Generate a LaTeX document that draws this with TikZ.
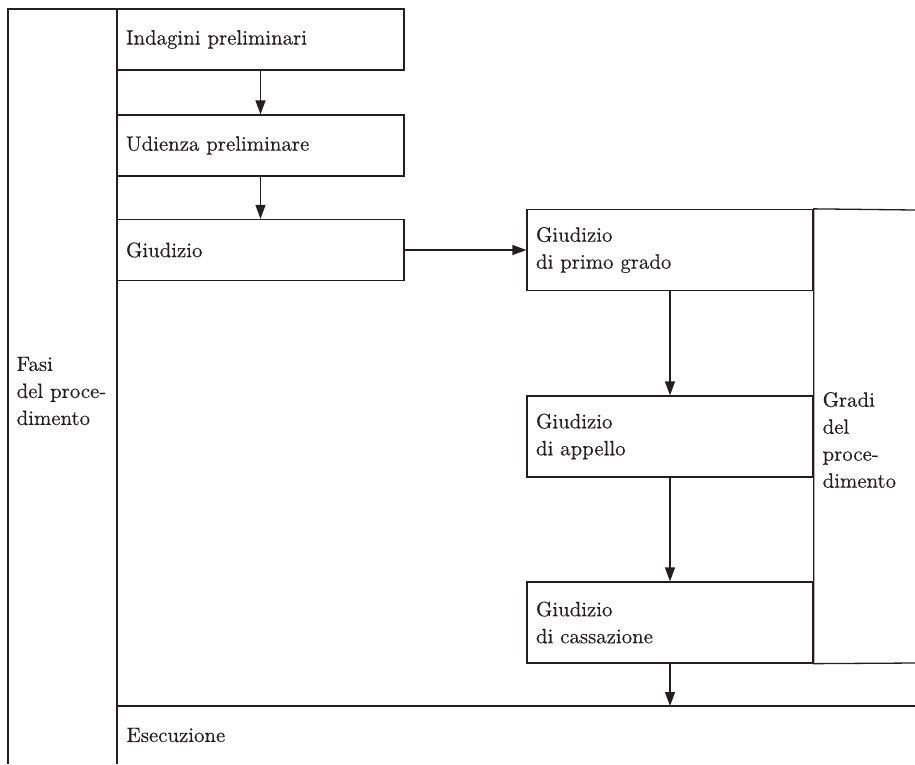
\documentclass[tikz,border=0pt]{standalone}
\usepackage{fontspec}
\setmainfont{lmroman10-regular}[Extension=.otf, FakeBold=0.3]
\usetikzlibrary{arrows.meta}
\definecolor{ink}{HTML}{231F20}
\begin{document}
\begin{tikzpicture}[x=1pt,y=-1pt,
  line width=1.3pt, color=ink,
  font=\fontsize{20.8}{27}\selectfont,
  stage/.style={draw, rectangle, minimum width=287pt, minimum height=61pt,
    inner xsep=9pt, inner ysep=0pt, text width=269pt, align=left},
  gradebox/.style={stage, minimum width=286pt, text width=268pt, minimum height=81pt},
  tag/.style={inner sep=0pt, align=left, anchor=west},
  flow/.style={-{Triangle[length=14pt,width=10pt]}}
]
\useasboundingbox (0,0) rectangle (915,764);

% phases of the proceeding
\node[stage] (ind) at (260.5,39.5)  {Indagini preliminari};
\node[stage] (ud)  at (260.5,145.5) {Udienza preliminare};
\node[stage] (giu) at (260.5,250) {Giudizio};

% degrees of judgement
\node[gradebox] (primo) at (670,250) {Giudizio\\di primo grado};
\node[gradebox] (app)   at (670,436.5) {Giudizio\\di appello};
\node[gradebox] (cass)  at (670,622.5) {Giudizio\\di cassazione};

% left column
\draw (8,764) -- (8,9) -- (117,9) -- (117,764);
\node[tag] (fasi) at (16,391) {Fasi\\del proce-\\dimento};

% right bracket
\draw (915,210) -- (primo.north east) -- (cass.south east) -- (915,663);
\node[tag] (gradi) at (822,440) {Gradi\\del\\proce-\\dimento};

% execution band
\draw (117,706) -- (915,706);
\coordinate (exectop) at (670,706);
\node[tag] (exec) at (126,735) {Esecuzione};

% connectors
\draw[flow] (ind) -- (ud);
\draw[flow] (ud) -- (giu);
\draw[flow] (giu) -- (primo);
\draw[flow] (primo) -- (app);
\draw[flow] (app) -- (cass);
\draw[flow] (cass) -- (exectop);
\end{tikzpicture}
\end{document}
